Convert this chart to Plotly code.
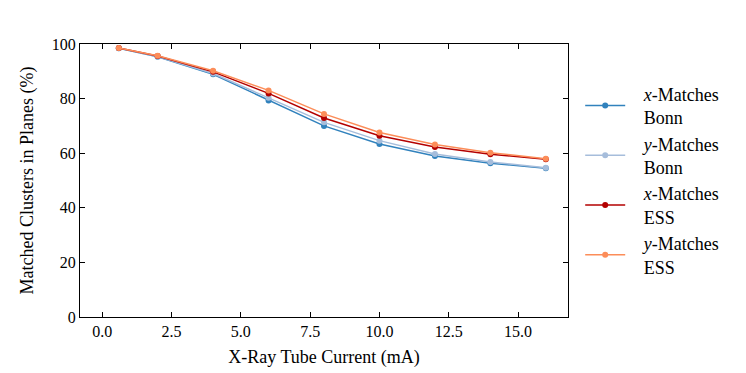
import plotly.graph_objects as go

# X-ray tube current (mA)
current = [0.6, 2, 4, 6, 8, 10, 12, 14, 16]

# matched clusters in planes (%)
x_bonn = [98.4, 95.3, 88.9, 79.3, 70.0, 63.4, 59.0, 56.3, 54.5]
y_bonn = [98.4, 95.4, 89.2, 80.3, 71.3, 64.6, 59.7, 56.8, 54.7]
x_ess = [98.5, 95.6, 89.8, 81.9, 72.9, 66.4, 62.3, 59.6, 57.8]
y_ess = [98.5, 95.7, 90.2, 83.0, 74.4, 67.6, 63.2, 60.2, 58.0]

pad = '&nbsp;&nbsp;&nbsp;'
labels = [pad + '<i>x</i>-Matches<br>' + pad + 'Bonn',
          pad + '<i>y</i>-Matches<br>' + pad + 'Bonn',
          pad + '<i>x</i>-Matches<br>' + pad + 'ESS',
          pad + '<i>y</i>-Matches<br>' + pad + 'ESS']
colors = ['#3182bd', '#a6bddb', '#b30000', '#fc8d59']
series = [x_bonn, y_bonn, x_ess, y_ess]

FONT = 'Liberation Serif'

fig = go.Figure()
for vals, name, col in zip(series, labels, colors):
    fig.add_trace(go.Scatter(
        x=current, y=vals, name=name,
        mode='lines+markers',
        line=dict(color=col, width=1.5),
        marker=dict(color=col, size=6),
    ))

axis_style = dict(
    showline=True, linecolor='black', linewidth=1.2, mirror='ticks',
    ticks='inside', ticklen=5, tickwidth=1.2, tickcolor='black',
    showgrid=False, zeroline=False,
    tickfont=dict(family=FONT, size=16, color='black'),
)

# page body has an 8px offset, margins compensate for it
fig.update_layout(
    width=746, height=373,
    margin=dict(l=72, r=186, t=36, b=64),
    plot_bgcolor='white', paper_bgcolor='white',
    font=dict(family=FONT, size=16, color='black'),
    xaxis=dict(axis_style, range=[-0.8, 16.8], dtick=2.5, tickformat='.1f',
               title=dict(text='X-Ray Tube Current (mA)', font=dict(family=FONT, size=18), standoff=11)),
    yaxis=dict(axis_style, range=[0, 100], dtick=20,
               title=dict(text='Matched Clusters in Planes (%)', font=dict(family=FONT, size=18), standoff=13)),
    legend=dict(x=1.025, xanchor='left', y=0.5, yanchor='middle',
                font=dict(family=FONT, size=18), valign='middle',
                itemwidth=40, bgcolor='rgba(0,0,0,0)'),
)

fig.write_html("out.html")
